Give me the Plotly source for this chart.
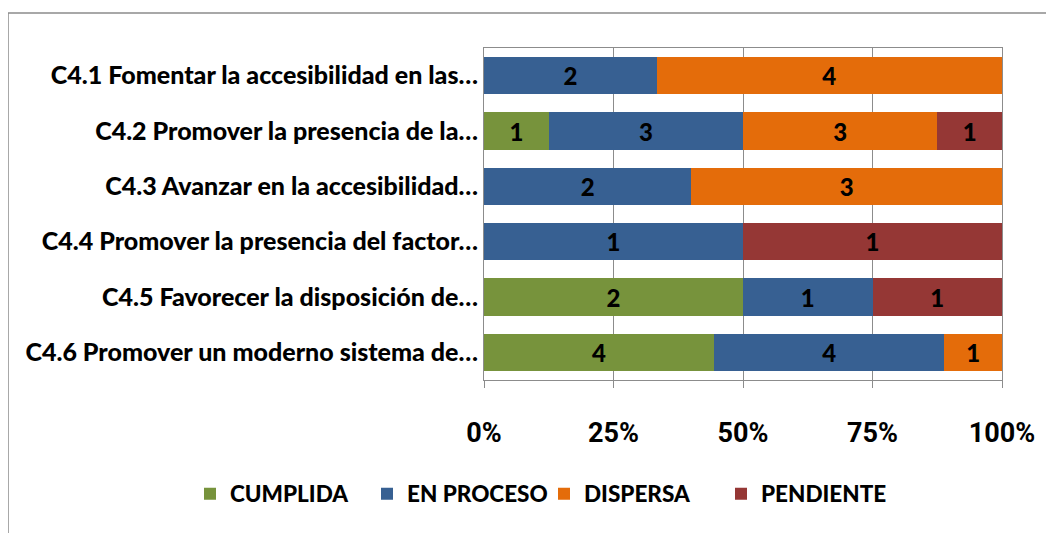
import plotly.graph_objects as go

categories = [
    "C4.1 Fomentar la accesibilidad en las…",
    "C4.2 Promover la presencia de la…",
    "C4.3 Avanzar en la accesibilidad…",
    "C4.4 Promover la presencia del factor…",
    "C4.5 Favorecer la disposición de…",
    "C4.6 Promover un moderno sistema de…",
]
series_names = ["CUMPLIDA", "EN PROCESO", "DISPERSA", "PENDIENTE"]
cumplida = [0, 1, 0, 0, 2, 4]
en_proceso = [2, 3, 2, 1, 1, 4]
dispersa = [4, 3, 3, 0, 0, 1]
pendiente = [0, 1, 0, 1, 1, 0]
tick_values = [0, 25, 50, 75, 100]
tick_labels = ["0%", "25%", "50%", "75%", "100%"]

colors = ["#77933C", "#376092", "#E46C0A", "#953735"]
series = [cumplida, en_proceso, dispersa, pendiente]

LABEL_FONT = "Lato, Carlito, Calibri, sans-serif"
TICK_FONT = "Roboto, 'Liberation Sans Narrow', sans-serif"

fig = go.Figure()
for name, vals, col in zip(series_names, series, colors):
    fig.add_trace(go.Bar(
        y=categories,
        x=[v if v else None for v in vals],
        name=name,
        orientation="h",
        marker=dict(color=col, line=dict(width=0)),
        text=[str(v) if v else "" for v in vals],
        textposition="inside",
        insidetextanchor="middle",
        textangle=0,
        textfont=dict(family=LABEL_FONT, size=24, color="black", weight=900),
        hoverinfo="name+x",
    ))

# page body has an 8px margin; figure coordinates = page - 8
W, H = 1046, 525
L, R, T, B = 476, 52, 40, 153
pw, ph = W - L - R, H - T - B
OFF = 8

def px_x(x):
    return (x - OFF - L) / pw

def px_y(y):
    return (H - B - (y - OFF)) / ph

fig.update_layout(
    barmode="stack",
    barnorm="percent",
    bargap=0.33,
    width=W,
    height=H,
    margin=dict(l=L, r=R, t=T, b=B, autoexpand=False),
    plot_bgcolor="white",
    paper_bgcolor="white",
    font=dict(family=LABEL_FONT, color="black"),
    showlegend=True,
    legend=dict(
        orientation="h",
        x=px_x(190), xanchor="left",
        y=px_y(494), yanchor="middle",
        font=dict(family=LABEL_FONT, size=22.5, color="black", weight=900),
        itemwidth=30,
        entrywidth=132,
        entrywidthmode="pixels",
        traceorder="normal",
        tracegroupgap=0,
    ),
    xaxis=dict(
        range=[0, 100],
        tickvals=tick_values,
        ticktext=tick_labels,
        showgrid=True,
        gridcolor="#8c8c8c",
        gridwidth=1,
        showline=True,
        linecolor="#8c8c8c",
        linewidth=1,
        mirror=True,
        ticks="outside",
        ticklen=7,
        tickcolor="#8c8c8c",
        ticklabelstandoff=22,
        tickfont=dict(family=TICK_FONT, size=27, color="black", weight="bold"),
        zeroline=False,
        fixedrange=True,
    ),
    yaxis=dict(
        autorange="reversed",
        showline=True,
        linecolor="#8c8c8c",
        linewidth=1,
        mirror=True,
        ticks="",
        ticklabelstandoff=0,
        tickfont=dict(family=LABEL_FONT, size=25, color="black", weight=900),
        fixedrange=True,
    ),
    shapes=[dict(
        type="rect", xref="paper", yref="paper",
        x0=px_x(8), x1=px_x(1070), y0=px_y(13), y1=px_y(560),
        line=dict(color="#8c8c8c", width=1.5),
        fillcolor="rgba(0,0,0,0)", layer="below",
    )],
)

fig.write_html("out.html")
